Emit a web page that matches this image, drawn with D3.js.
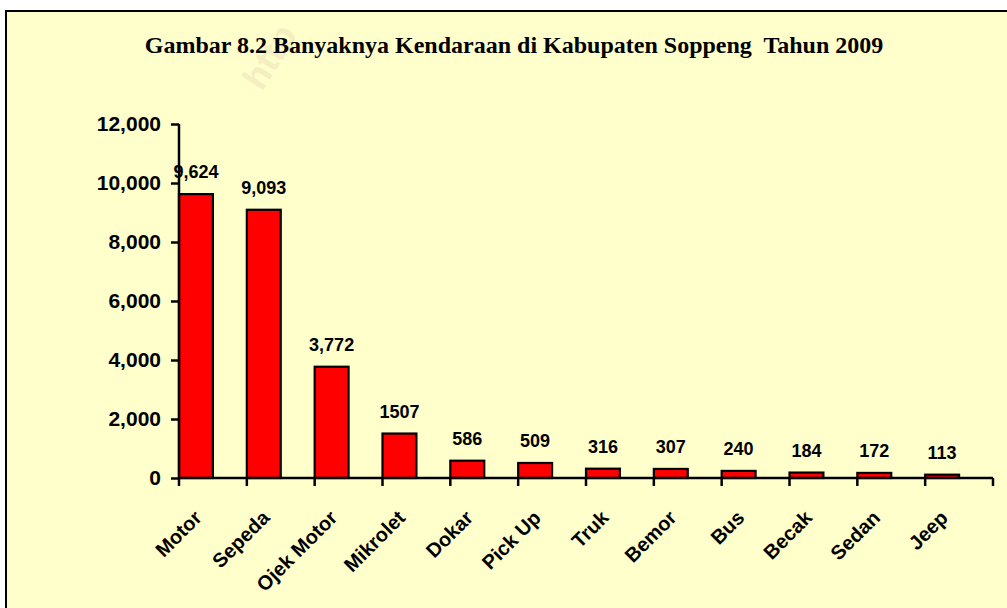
<!DOCTYPE html>
<html>
<head>
<meta charset="utf-8">
<script src="https://cdn.jsdelivr.net/npm/d3@7"></script>
<style>
  html, body { margin: 0; padding: 0; background: #ffffff; }
  svg { display: block; }
</style>
</head>
<body>
<svg id="chart" width="1007" height="608"></svg>
<script>
const categories = ["Motor", "Sepeda", "Ojek Motor", "Mikrolet", "Dokar", "Pick Up", "Truk", "Bemor", "Bus", "Becak", "Sedan", "Jeep"];
const values = [9624, 9093, 3772, 1507, 586, 509, 316, 307, 240, 184, 172, 113];
const valueLabels = ["9,624", "9,093", "3,772", "1507", "586", "509", "316", "307", "240", "184", "172", "113"];
const yTicks = [0, 2000, 4000, 6000, 8000, 10000, 12000];
const titleText = "Gambar 8.2 Banyaknya Kendaraan di Kabupaten Soppeng  Tahun 2009";

const svg = d3.select("#chart");

// chart area background and frame
svg.append("rect")
  .attr("x", 6).attr("y", 11)
  .attr("width", 1010).attr("height", 610)
  .attr("fill", "#FFFFCC")
  .attr("stroke", "#000").attr("stroke-width", 2);

// faint watermark
svg.append("text")
  .attr("transform", "translate(262,92) rotate(-58)")
  .attr("font-family", "Liberation Sans, Arial, sans-serif")
  .attr("font-weight", "bold")
  .attr("font-size", 36)
  .attr("fill", "#f2ebbf")
  .attr("opacity", 0.8)
  .text("http");

// title
svg.append("text")
  .attr("x", 514).attr("y", 53)
  .attr("text-anchor", "middle")
  .attr("font-family", "Liberation Serif, Times New Roman, serif")
  .attr("font-weight", "bold")
  .attr("font-size", 24)
  .style("white-space", "pre")
  .attr("fill", "#000")
  .text(titleText);

const x = d3.scaleBand().domain(categories).range([179, 993]).padding(0);
const y = d3.scaleLinear().domain([0, 12000]).range([478, 124]);
const bw = x.bandwidth();

// bars (left half of each category slot)
svg.append("g").selectAll("rect")
  .data(categories)
  .join("rect")
  .attr("x", d => x(d))
  .attr("y", (d, i) => y(values[i]))
  .attr("width", bw / 2)
  .attr("height", (d, i) => y(0) - y(values[i]))
  .attr("fill", "#FF0000")
  .attr("stroke", "#000")
  .attr("stroke-width", 2.2);

// value labels
svg.append("g").selectAll("text")
  .data(categories)
  .join("text")
  .attr("x", d => x(d) + bw / 4)
  .attr("y", (d, i) => y(values[i]) - 16)
  .attr("text-anchor", "middle")
  .attr("font-family", "Liberation Sans, Arial, sans-serif")
  .attr("font-weight", "bold")
  .attr("font-size", 18)
  .attr("fill", "#000")
  .text((d, i) => valueLabels[i]);

// y axis
const yAxis = svg.append("g")
  .attr("transform", "translate(179,0)")
  .call(d3.axisLeft(y).tickValues(yTicks).tickFormat(d3.format(",")).tickSize(8).tickPadding(10));
yAxis.select(".domain").attr("stroke", "#000").attr("stroke-width", 2.5)
  .attr("d", `M0,${y(12000)}V${y(0)}`);
yAxis.selectAll(".tick line").attr("stroke", "#000").attr("stroke-width", 2.5);
yAxis.selectAll(".tick text")
  .attr("font-family", "Liberation Sans, Arial, sans-serif")
  .attr("font-weight", "bold")
  .attr("font-size", 21)
  .attr("fill", "#000");

// x axis: baseline with ticks at category boundaries
const xAxisG = svg.append("g");
xAxisG.append("line")
  .attr("x1", 179).attr("x2", 993)
  .attr("y1", y(0)).attr("y2", y(0))
  .attr("stroke", "#000").attr("stroke-width", 2.5);
const boundaries = categories.map(d => x(d)).concat([x.range()[1]]);
xAxisG.selectAll("line.tk")
  .data(boundaries)
  .join("line")
  .attr("class", "tk")
  .attr("x1", d => d).attr("x2", d => d)
  .attr("y1", y(0)).attr("y2", y(0) + 8)
  .attr("stroke", "#000").attr("stroke-width", 2.5);

// category labels rotated
svg.append("g").selectAll("text")
  .data(categories)
  .join("text")
  .attr("transform", d => `translate(${x(d) + bw / 4 + 7},519) rotate(-45)`)
  .attr("text-anchor", "end")
  .attr("font-family", "Liberation Sans, Arial, sans-serif")
  .attr("font-weight", "bold")
  .attr("font-size", 20)
  .attr("fill", "#000")
  .text(d => d);
</script>
</body>
</html>
